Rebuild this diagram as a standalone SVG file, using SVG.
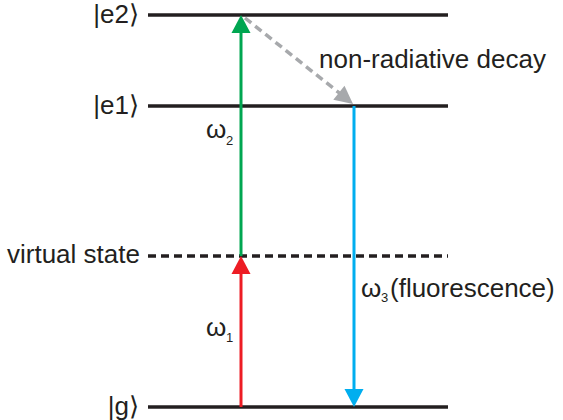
<svg xmlns="http://www.w3.org/2000/svg" width="563" height="420" viewBox="0 0 563 420">
<style>
text{font-family:"Liberation Sans",Arial,sans-serif;fill:#231f20;font-size:26px}
.lvl{stroke:#231f20;stroke-width:3.5}
.sub{font-size:13px}
</style>
<rect width="563" height="420" fill="#fff"/>
<g id="level-e2"><line class="lvl" x1="148" y1="15" x2="448" y2="15"/><text x="139" y="23" text-anchor="end">|e2⟩</text></g>
<g id="level-e1"><line class="lvl" x1="148" y1="106" x2="448" y2="106"/><text x="139" y="114" text-anchor="end">|e1⟩</text></g>
<g id="level-virtual"><line class="lvl" x1="148" y1="256" x2="448" y2="256" stroke-dasharray="8,5" stroke-width="3"/><text x="7" y="263">virtual state</text></g>
<g id="level-g"><line class="lvl" x1="148" y1="407" x2="448" y2="407"/><text x="139" y="415" text-anchor="end">|g⟩</text></g>
<g id="connectors">
<line x1="241" y1="407" x2="241" y2="272" stroke="#ed1c24" stroke-width="3"/>
<polygon points="241,256 231.5,274 250.5,274" fill="#ed1c24"/>
<line x1="241" y1="256" x2="241" y2="30" stroke="#00a651" stroke-width="3"/>
<polygon points="241,15 231.5,33 250.5,33" fill="#00a651"/>
<line x1="354" y1="106" x2="354" y2="392" stroke="#00aeef" stroke-width="3"/>
<polygon points="354,407 344.5,389 363.5,389" fill="#00aeef"/>
<line x1="245" y1="18" x2="340" y2="93.5" stroke="#a7a9ac" stroke-width="3.5" stroke-dasharray="8,5"/>
<polygon points="353,104 333.3,99.8 344.5,85.7" fill="#a7a9ac"/>
</g>
<g id="labels">
<text x="319" y="68">non-radiative decay</text>
<text x="206" y="138">ω</text><text class="sub" x="226" y="145">2</text>
<text x="206" y="336">ω</text><text class="sub" x="226" y="342">1</text>
<text x="361" y="297">ω</text><text class="sub" x="381" y="302">3</text>
<text x="390" y="297">(fluorescence)</text>
</g>
</svg>
